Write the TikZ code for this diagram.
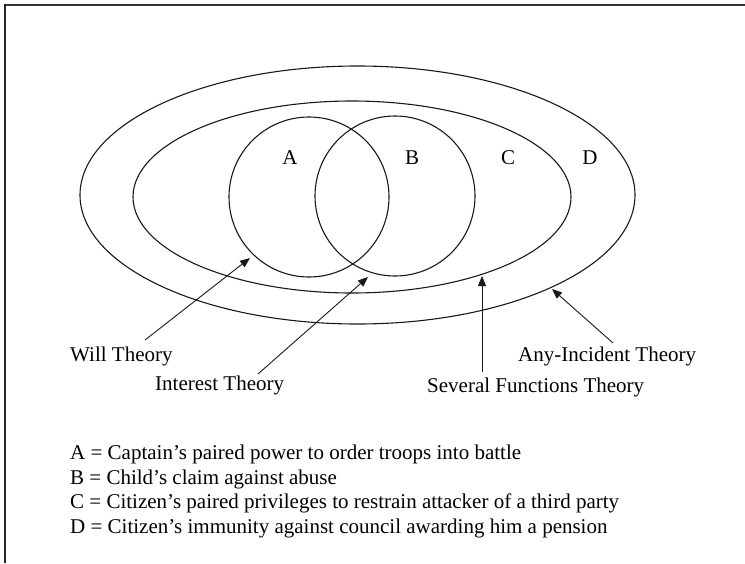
\documentclass[tikz,border=0pt]{standalone}
\usepackage{fontspec}
\setmainfont{Liberation Serif}
\usetikzlibrary{arrows.meta}
\begin{document}
\begin{tikzpicture}[x=1pt,y=-1pt,
  shape line/.style={line width=1.1pt,black!90},
  pointer/.style={line width=0.9pt,black!90,-{Triangle[length=10pt,width=8pt]}},
  txt/.style={inner sep=0pt,anchor=base west,font=\fontsize{21}{25}\selectfont},
  lbl/.style={inner sep=0pt,anchor=center,font=\fontsize{21}{25}\selectfont}]
\useasboundingbox (0,0) rectangle (745,563);
% frame
\draw[line width=2.4pt,black!80] (4,5) -- (745,5);
\draw[line width=2pt,black!85] (5.2,4) -- (5.2,563);
% sets
\draw[shape line] (357.5,195) ellipse [x radius=277.5pt, y radius=129pt];
\draw[shape line] (352,197) ellipse [x radius=219pt, y radius=96pt];
\draw[shape line] (309,197) circle [radius=80pt];
\draw[shape line] (395,196) circle [radius=80pt];
% set labels
\node[lbl] (la) at (290,158) {A};
\node[lbl] (lb) at (412,158) {B};
\node[lbl] (lc) at (508,158) {C};
\node[lbl] (ld) at (590,158) {D};
% theory labels
\node[txt] (will) at (70,361) {Will Theory};
\node[txt] (interest) at (155,390) {Interest Theory};
\node[txt] (several) at (427,392) {Several Functions Theory};
\node[txt] (any) at (518,361) {Any-Incident Theory};
% arrow ends
\coordinate (willT) at (145,340);
\coordinate (willH) at (250,258);
\coordinate (intT) at (258,374);
\coordinate (intH) at (368,277);
\coordinate (sevT) at (482,372);
\coordinate (sevH) at (482,276);
\coordinate (anyT) at (613,343);
\coordinate (anyH) at (552,289);
\draw[pointer] (willT) -- (willH);
\draw[pointer] (intT) -- (intH);
\draw[pointer] (sevT) -- (sevH);
\draw[pointer] (anyT) -- (anyH);
% legend
\node[txt] (legA) at (70,459) {A = Captain’s paired power to order troops into battle};
\node[txt] (legB) at (70,484) {B = Child’s claim against abuse};
\node[txt] (legC) at (70,508) {C = Citizen’s paired privileges to restrain attacker of a third party};
\node[txt] (legD) at (70,533) {D = Citizen’s immunity against council awarding him a pension};
\end{tikzpicture}
\end{document}
